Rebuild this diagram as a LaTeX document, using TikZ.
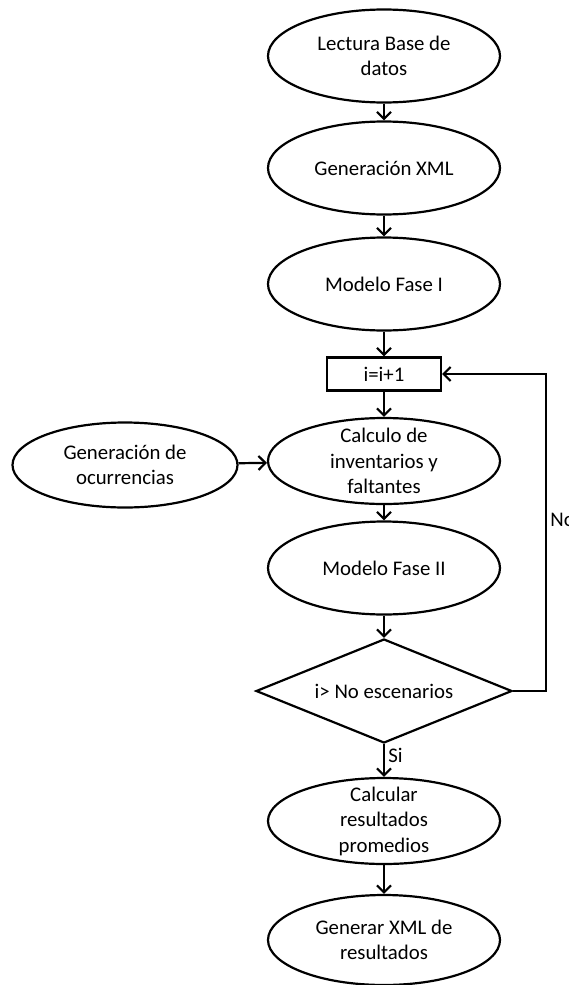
\documentclass[tikz,border=0pt]{standalone}
\usepackage{fontspec}
\setmainfont{Carlito}
\usetikzlibrary{shapes.geometric,arrows.meta}
\begin{document}
\begin{tikzpicture}[x=1pt,y=-1pt,line width=2.2pt,
  proc/.style={ellipse,draw,minimum width=232pt,minimum height=93pt,inner sep=0pt,align=center,font=\fontsize{20.8}{25.5}\selectfont},
  incbox/.style={rectangle,draw,minimum width=114pt,minimum height=33pt,inner sep=0pt,font=\fontsize{20.8}{25.5}\selectfont},
  decide/.style={diamond,draw,shape aspect=2.5,minimum width=256pt,minimum height=104pt,inner sep=0pt,font=\fontsize{20.8}{25.5}\selectfont},
  flow/.style={-{Straight Barb[length=7pt,width=14pt]}}]
%%\draw[help lines] (0,0) grid (568,985);
\useasboundingbox (0,0) rectangle (568,985);
\node [proc] (lectura) at (384,56) {Lectura Base de\\datos};
\node [proc] (genxml) at (384,168) {Generación XML};
\node [proc] (fase1) at (384,284) {Modelo Fase I};
\node [incbox] (incr) at (384,374) {i=i+1};
\node [proc,minimum height=86pt,inner ysep=-5pt] (calculo) at (384,461) {Calculo de\\inventarios y\\faltantes};
\node [proc,minimum width=225pt,minimum height=85pt] (ocurr) at (125,465) {Generación de\\ocurrencias};
\node [proc] (fase2) at (384,568) {Modelo Fase II};
\node [decide] (cond) at (384,691) {i> No escenarios};
\node [proc,minimum height=86pt,inner ysep=-4pt] (promedios) at (384,821) {Calcular\\resultados\\promedios};
\node [proc,minimum height=90pt] (genres) at (384,940) {Generar XML de\\resultados};
\draw [flow] (lectura) -- (genxml);
\draw [flow] (genxml) -- (fase1);
\draw [flow] (fase1) -- (incr);
\draw [flow] (incr) -- (calculo);
\draw [flow] (ocurr) -- (calculo);
\draw [flow] (calculo) -- (fase2);
\draw [flow] (fase2) -- (cond);
\draw [flow] (cond) -- node [pos=0.35,anchor=west,font=\fontsize{20.8}{25.5}\selectfont] {Si} (promedios);
\draw [flow] (promedios) -- (genres);
\coordinate (loop) at (546,691);
\draw [flow] (cond.east) -- (loop) |- node [pos=0.27,anchor=west,font=\fontsize{20.8}{25.5}\selectfont] {No} (incr.east);
\end{tikzpicture}
\end{document}
